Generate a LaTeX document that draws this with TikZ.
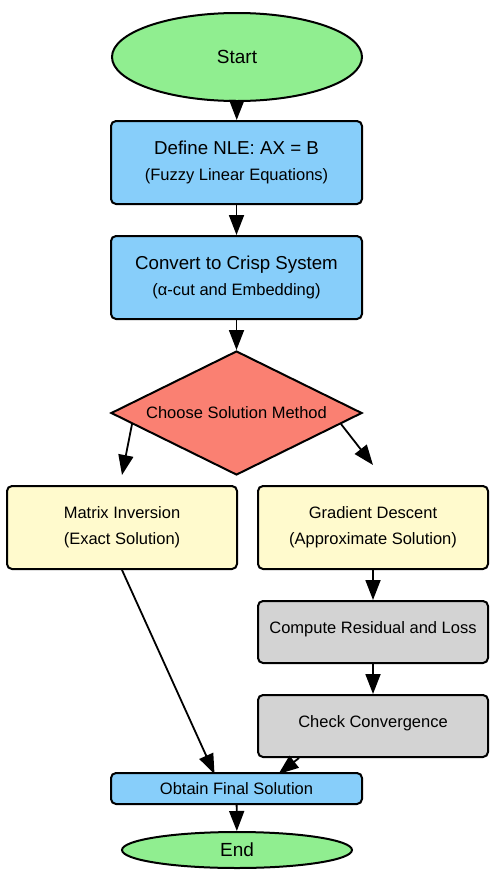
\documentclass[tikz,border=0pt]{standalone}
\usepackage{fontspec}
\setmainfont{Liberation Sans}
\usetikzlibrary{shapes.geometric,arrows.meta,calc}

\definecolor{startgreen}{HTML}{90EE90}
\definecolor{stepblue}{HTML}{87CEFA}
\definecolor{choosered}{HTML}{FA8072}
\definecolor{methodyellow}{HTML}{FFFACD}
\definecolor{loopgrey}{HTML}{D3D3D3}

\tikzset{every picture/.style={line width=2pt}}
\tikzset{
  bigfont/.style={font=\fontsize{19}{23}\selectfont},
  boxnode/.style={draw, rounded corners=5pt, inner sep=0pt, align=center,
    font=\fontsize{16.5}{26}\selectfont},
  terminal/.style={draw, ellipse, inner sep=0pt, fill=startgreen, bigfont},
  bluebox/.style={boxnode, fill=stepblue},
  methodbox/.style={boxnode, fill=methodyellow, minimum width=230pt, minimum height=83pt},
  greybox/.style={boxnode, fill=loopgrey, minimum width=230pt, minimum height=62pt, text depth=8pt},
  flowarrow/.style={-{Triangle[length=20pt,width=15pt]}, line width=1.8pt}
}

\begin{document}
\begin{tikzpicture}[x=1pt,y=-1pt]
    \useasboundingbox (0,0) rectangle (496,879);

    % Terminal: Start
    \node [terminal, minimum width=250pt, minimum height=88pt] (start) at (237,57) {Start};

    % Process boxes
    \node [bluebox, minimum width=251pt, minimum height=83pt] (define) at (236.5,162.5)
      {\fontsize{18.7}{26}\selectfont Define NLE: AX = B\\(Fuzzy Linear Equations)};
    \node [bluebox, minimum width=251pt, minimum height=83pt] (convert) at (236.5,277.5)
      {\fontsize{18.7}{26}\selectfont Convert to Crisp System\\(α-cut and Embedding)};

    % Decision
    \node [draw, diamond, aspect=2, inner sep=0pt, fill=choosered,
      minimum width=251pt, minimum height=124pt,
      font=\fontsize{16.5}{20}\selectfont] (choose) at (236.5,413) {Choose Solution Method};

    % Two methods
    \node [methodbox] (matrix) at (122,527.5) {Matrix Inversion\\(Exact Solution)};
    \node [methodbox] (gradient) at (373,527.5) {Gradient Descent\\(Approximate Solution)};

    % Iteration steps
    \node [greybox] (compute) at (373,632) {Compute Residual and Loss};
    \node [greybox] (check) at (373,726) {Check Convergence};

    % Result and End
    \node [bluebox, minimum width=251pt, minimum height=31pt] (obtain) at (236.5,788.5) {Obtain Final Solution};
    \node [terminal, minimum width=230pt, minimum height=36pt] (end) at (237,850) {End};

    % Connectors
    \draw [flowarrow] (start) -- (define);
    \draw [flowarrow] (define) -- (convert);
    \draw [flowarrow] (convert) -- (choose);
    \draw [flowarrow] (choose.186) -- ($(matrix.north)+(0,-10)$);
    \draw [flowarrow] (choose.-6) -- ($(gradient.north)+(0,-20)$);
    \draw [flowarrow] (matrix.south) -- ($(obtain.north)+(-22,2)$);
    \draw [flowarrow] (gradient) -- (compute);
    \draw [flowarrow] (compute) -- (check);
    \draw [flowarrow] ($(check.south)+(-74,0)$) -- ($(obtain.north)+(42,2)$);
    \draw [flowarrow] (obtain) -- (end);
\end{tikzpicture}
\end{document}
